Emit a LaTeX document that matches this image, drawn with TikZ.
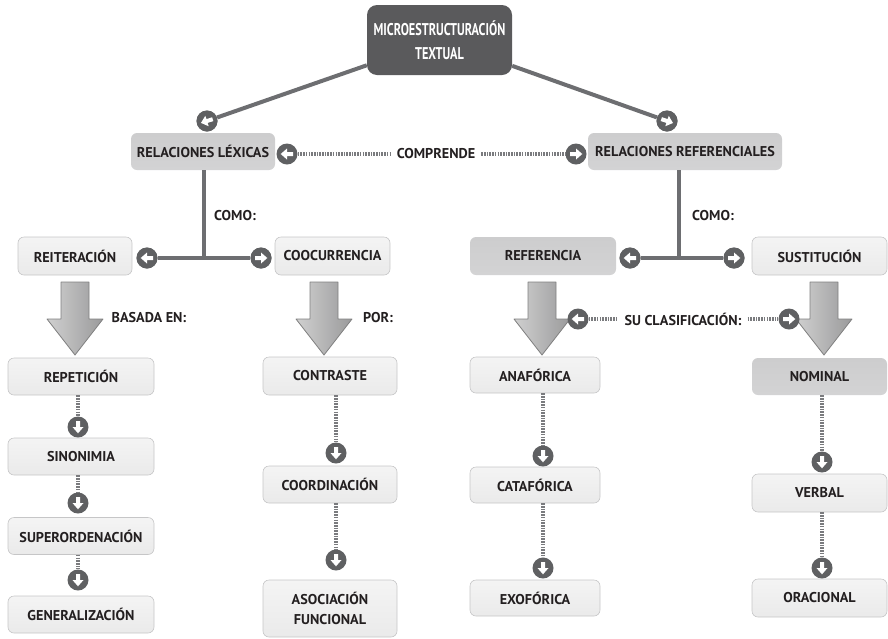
\documentclass[tikz,border=0pt]{standalone}
\usepackage{fontspec}
\setmainfont{PT Sans}
\newfontfamily\lblfont{PT Sans Bold}
\newfontfamily\headfont{PT Sans Bold}[FakeStretch=0.72]
\usetikzlibrary{calc}

\definecolor{ink}{HTML}{231F20}
\definecolor{linegray}{HTML}{6D6E71}
\definecolor{dotgray}{HTML}{7A7B7E}
\definecolor{circgray}{HTML}{5F6062}
\definecolor{topgray}{HTML}{5A5A5C}
\definecolor{boxdark}{HTML}{D3D3D4}
\definecolor{boxdarktop}{HTML}{CDCDCE}
\definecolor{boxlight}{HTML}{EAEAEA}
\definecolor{boxlighttop}{HTML}{F4F4F4}
\definecolor{boxedge}{HTML}{C6C6C7}
\definecolor{arrowlight}{HTML}{EEEEEE}
\definecolor{arrowmid}{HTML}{D0D0D0}
\definecolor{arrowdark}{HTML}{9A9A9B}
\definecolor{arrowedge}{HTML}{808080}

\tikzset{
  lbl/.style={font=\lblfont\fontsize{14.2}{20}\selectfont, text=ink, align=center},
  topbox/.style={font=\headfont\fontsize{17}{24}\selectfont, text=white, align=center,
    fill=topgray, rounded corners=10pt, minimum width=145pt, minimum height=70pt, inner sep=0pt},
  boxd/.style={lbl, rounded corners=6pt, top color=boxdarktop, bottom color=boxdark,
    minimum width=#1, minimum height=37pt, inner sep=0pt},
  boxl/.style={lbl, rounded corners=6pt, top color=boxlighttop, bottom color=boxlight,
    draw=boxedge, line width=0.6pt, minimum width=#1, minimum height=37pt, inner sep=0pt},
  circ/.style={circle, fill=circgray, minimum size=21pt, inner sep=0pt},
  whitehead/.style={fill=white},
  conn/.style={draw=linegray, line width=4pt},
  dotline/.style={draw=dotgray, line width=4pt, dash pattern=on 1.6pt off 1.1pt},
  bigarrow/.pic={
    \shade[left color=arrowmid, middle color=arrowlight, right color=arrowdark,
      draw=arrowedge, line width=0.8pt, line join=round]
      (-14,0) -- (14,0) -- (14,37) -- (28,37) -- (0,73) -- (-28,37) -- (-14,37) -- cycle;
  }
}

% round marker with a white arrow: name, position, direction angle
\newcommand\roundmark[3]{%
  \node[circ] (#1) at (#2) {};
  \fill[whitehead, shift={(#1.center)}, rotate=#3]
    (-6,2) -- (0,2) -- (0,5.5) -- (6.3,0) -- (0,-5.5) -- (0,-2) -- (-6,-2) -- cycle;
}

\begin{document}
\begin{tikzpicture}[x=1pt,y=-1pt]
\useasboundingbox (0,0) rectangle (888,638);

% root and first level
\node[topbox] (top) at (439.5,40) {MICROESTRUCTURACIÓN\\TEXTUAL};
\node[circ] (cL) at (207,121) {};
\node[circ] (cR) at (667,121) {};
\draw[conn] (top) -- (cL);
\draw[conn] (top) -- (cR);
\roundmark{cL}{207,121}{197.6}
\roundmark{cR}{667,121}{-18.3}

\node[boxd=144pt] (rl) at (203,151.5) {RELACIONES LÉXICAS};
\node[boxd=194pt] (rr) at (685,151.5) {RELACIONES REFERENCIALES};

\roundmark{cc1}{287,154}{180}
\node[lbl, inner sep=6pt] (comp) at (436,154) {COMPRENDE};
\roundmark{cc2}{576,154}{0}
\draw[dotline] (cc1) -- (comp);
\draw[dotline] (comp) -- (cc2);

% second level
\coordinate (jl) at (204,258);
\coordinate (jr) at (679,258);
\draw[conn] (jl |- rl.south) -- (jl);
\draw[conn] (jr |- rr.south) -- (jr);
\node[circ] (cA) at (147,258) {};
\node[circ] (cB) at (261,258) {};
\node[circ] (cC) at (630,258) {};
\node[circ] (cD) at (734,258) {};
\draw[conn] (cA) -- (cB);
\draw[conn] (cC) -- (cD);
\roundmark{cA}{147,258}{180}
\roundmark{cB}{261,258}{0}
\roundmark{cC}{630,258}{180}
\roundmark{cD}{734,258}{0}
\node[lbl] (como1) at (235,216) {COMO:};
\node[lbl] (como2) at (713,216) {COMO:};

\node[boxl=114pt, minimum height=38pt] (reit) at (75,256) {REITERACIÓN};
\node[boxl=115pt, minimum height=38pt] (cooc) at (332.5,256) {COOCURRENCIA};
\node[boxd=146pt, minimum height=38pt] (refe) at (543,256) {REFERENCIA};
\node[boxl=135pt, minimum height=38pt] (sust) at (819.5,256) {SUSTITUCIÓN};

% big arrows with their labels
\pic at (75,282) {bigarrow};
\pic at (324,282) {bigarrow};
\pic at (542,282) {bigarrow};
\pic at (824,282) {bigarrow};
\node[lbl] (basada) at (149,318) {BASADA EN:};
\node[lbl] (por) at (378,318) {POR:};
\node[lbl, inner sep=6pt] (clas) at (683,319) {SU CLASIFICACIÓN:};
\roundmark{cs1}{578,319}{180}
\roundmark{cs2}{789,319}{0}
\draw[dotline] (cs1) -- (clas);
\draw[dotline] (clas) -- (cs2);

% column 1
\node[boxl=146pt] (rep) at (81,376.5) {REPETICIÓN};
\node[boxl=146pt] (sin) at (81,456.5) {SINONIMIA};
\node[boxl=146pt] (sup) at (81,536) {SUPERORDENACIÓN};
\node[boxl=146pt] (gen) at (81,614.5) {GENERALIZACIÓN};
\roundmark{d11}{78,427}{-90}
\roundmark{d12}{78,503}{-90}
\roundmark{d13}{78,580}{-90}
\draw[dotline] (d11 |- rep.south) -- (d11);
\draw[dotline] (d12 |- sin.south) -- (d12);
\draw[dotline] (d13 |- sup.south) -- (d13);

% column 2
\node[boxl=134pt, minimum height=38pt] (con) at (330,376) {CONTRASTE};
\node[boxl=134pt] (coo) at (330,484.5) {COORDINACIÓN};
\node[boxl=134pt, minimum height=57pt] (aso) at (330,608.5) {ASOCIACIÓN\\FUNCIONAL};
\roundmark{d21}{336,453}{-90}
\roundmark{d22}{336,560}{-90}
\draw[dotline] (d21 |- con.south) -- (d21);
\draw[dotline] (d22 |- coo.south) -- (d22);

% column 3
\node[boxl=130pt, minimum height=36pt] (ana) at (535,375) {ANAFÓRICA};
\node[boxl=130pt, minimum height=36pt] (cat) at (535,485) {CATAFÓRICA};
\node[boxl=130pt, minimum height=36pt] (exo) at (535,598) {EXOFÓRICA};
\roundmark{d31}{543,456}{-90}
\roundmark{d32}{543,568}{-90}
\draw[dotline] (d31 |- ana.south) -- (d31);
\draw[dotline] (d32 |- cat.south) -- (d32);

% column 4
\node[boxd=135pt] (nom) at (819.5,376.5) {NOMINAL};
\node[boxl=135pt, minimum height=38pt] (ver) at (819.5,493) {VERBAL};
\node[boxl=135pt, minimum height=38pt] (ora) at (819.5,598) {ORACIONAL};
\roundmark{d41}{822,462}{-90}
\roundmark{d42}{822,568}{-90}
\draw[dotline] (d41 |- nom.south) -- (d41);
\draw[dotline] (d42 |- ver.south) -- (d42);
\end{tikzpicture}
\end{document}
